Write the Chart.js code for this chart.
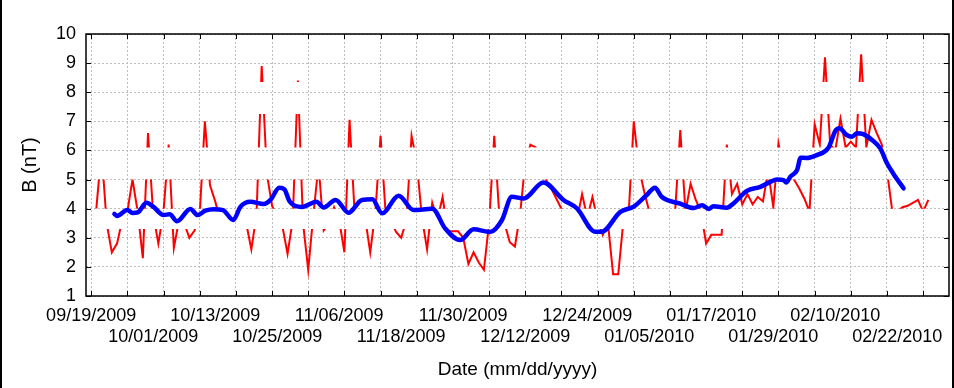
<!DOCTYPE html>
<html>
<head>
<meta charset="utf-8">
<script src="https://cdn.jsdelivr.net/npm/chart.js@4.4.1/dist/chart.umd.min.js"></script>
<style>
  html, body { margin: 0; padding: 0; background: #fff; }
  #wrap { position: relative; width: 954px; height: 388px; }
  #wrap::after { content: ''; position: absolute; left: 0; top: 0; right: 0; bottom: 0;
    border-left: 2px solid #000; border-right: 2px solid #000; pointer-events: none; }
</style>
</head>
<body>
<div id="wrap"><canvas id="bChart" width="954" height="388"></canvas></div>
<script>
// day 0 = 09/19/2009
const startDate = '09/19/2009';
const xTickLabels = ['09/19/2009', '10/01/2009', '10/13/2009', '10/25/2009', '11/06/2009', '11/18/2009', '11/30/2009',
                     '12/12/2009', '12/24/2009', '01/05/2010', '01/17/2010', '01/29/2010', '02/10/2010', '02/22/2010'];
const yTickValues = [1, 2, 3, 4, 5, 6, 7, 8, 9, 10];

// daily field values, first one on day 1 (09/20/2009)
const redStartDay = 1;
const redValues = [
  4.0, 6.0, 3.5, 2.5, 2.8, 3.6, 3.9, 5.0, 3.9, 2.3,
  6.6, 3.8, 2.8, 3.9, 6.2, 2.65, 3.6, 3.5, 3.0, 3.25,
  3.8, 7.0, 4.8, 4.25, 3.6, 3.8, 3.4, 3.9, 3.7, 3.5,
  2.6, 3.8, 8.9, 5.2, 4.1, 3.7, 3.4, 2.45, 3.6, 8.4,
  3.5, 1.9, 3.8, 5.5, 3.25, 3.5, 4.05, 3.6, 2.5, 7.05,
  3.8, 3.5, 3.7, 2.5, 3.9, 6.5, 3.8, 3.6, 3.2, 3.0,
  3.6, 6.5, 5.6, 3.7, 2.6, 4.2, 3.6, 4.4, 3.22, 3.22,
  3.22, 3.0, 2.1, 2.5, 2.15, 1.9, 3.5, 6.5, 3.7, 3.5,
  2.85, 2.7, 3.8, 5.6, 6.2, 6.1, 5.4, 5.0, 4.7, 4.35,
  4.0, 3.7, 3.8, 3.6, 4.5, 3.7, 4.4, 3.6, 3.1, 3.5,
  1.75, 1.75, 3.6, 3.8, 7.0, 5.4, 4.6, 3.9, 3.75, 3.65,
  3.6, 3.8, 3.9, 6.7, 3.9, 4.85, 4.3, 3.9, 2.8, 3.1,
  3.1, 3.1, 6.2, 4.5, 4.85, 4.15, 4.5, 4.15, 4.4, 4.25,
  5.3, 4.05, 6.25, 5.4, 5.2, 5.0, 4.7, 4.35, 3.9, 6.9,
  6.2, 9.2, 6.2, 6.0, 7.1, 6.1, 6.3, 6.1, 9.3, 6.1,
  7.05, 6.6, 6.2, 5.3, 3.95, 3.9, 4.05, 4.1, 4.2, 4.3,
  3.9, 4.3
];

// smoothed curve
const blueDays = [4.5, 5, 7, 8, 9, 10.7, 12, 14, 15.2, 16.6, 19.2, 20.6, 22.1, 23.7, 25.5, 27.5, 28.9, 30.8,
  33.4, 34.7, 36.4, 37.4, 38.4, 40.8, 43.6, 45, 47.3, 49.8, 52.4, 54.4, 56.3, 59.5, 62.4, 66, 68.5, 71.4,
  74, 77.2, 79.5, 81.4, 83.7, 87.5, 91.4, 94, 97.5, 98.8, 102.4, 105, 107.5, 109.1, 110.4, 114, 116.6,
  118.2, 119.5, 120.4, 123, 124.3, 126.9, 129.5, 131.4, 132.7, 134, 134.5, 135.3, 136.6, 137.3, 138.4,
  140.4, 142.7, 144, 144.8, 146.2, 147.2, 148.2, 149.4, 151.1, 152.7, 154, 155.2, 157.2];
const blueValues = [3.82, 3.75, 3.95, 3.85, 3.87, 4.2, 4.07, 3.78, 3.81, 3.57, 3.99, 3.78, 3.93, 3.98, 3.95, 3.61, 4.07, 4.24,
  4.16, 4.3, 4.72, 4.66, 4.25, 4.06, 4.24, 4.04, 4.3, 3.86, 4.3, 4.32, 3.84, 4.44, 3.95, 4.0, 3.32, 2.92,
  3.29, 3.2, 3.61, 4.41, 4.35, 4.9, 4.3, 4.01, 3.21, 3.21, 3.89, 4.07, 4.47, 4.72, 4.41, 4.17, 4.02,
  4.12, 3.99, 4.08, 4.03, 4.18, 4.61, 4.75, 4.92, 5.0, 4.98, 4.9, 5.1, 5.33, 5.75, 5.74,
  5.84, 6.1, 6.67, 6.76, 6.53, 6.47, 6.59, 6.56, 6.36, 6.07, 5.56, 5.21, 4.7];

// value ranges in which the daily trace shows
const redBands = [[1, 3.3], [4, 5], [6.1, 7.25], [8.35, 10]];

function dayOf(s) {
    const [m, d, y] = s.split('/').map(Number);
    const [m0, d0, y0] = startDate.split('/').map(Number);
    return Math.round((Date.UTC(y, m - 1, d) - Date.UTC(y0, m0 - 1, d0)) / 86400000);
}
const tickDays = xTickLabels.map(dayOf);
const fontFamily = '"Liberation Sans", Arial, sans-serif';

const bandPlugin = {
    id: 'bandPlugin',
    beforeDatasetDraw(chart, args) {
        if (args.index !== 0) return;
        const { ctx, chartArea, scales: { y } } = chart;
        ctx.save();
        ctx.beginPath();
        redBands.forEach(([lo, hi]) => {
            const top = y.getPixelForValue(hi);
            const bottom = y.getPixelForValue(lo);
            ctx.rect(chartArea.left, top, chartArea.right - chartArea.left, bottom - top);
        });
        ctx.clip();
    },
    afterDatasetDraw(chart, args) {
        if (args.index !== 0) return;
        chart.ctx.restore();
    },
    afterDraw(chart) {
        const { ctx, chartArea: a, scales: { x, y } } = chart;
        ctx.save();
        ctx.strokeStyle = '#000';
        ctx.lineWidth = 1.5;
        ctx.strokeRect(a.left, a.top, a.right - a.left, a.bottom - a.top);
        ctx.lineWidth = 1;
        ctx.beginPath();
        x.ticks.forEach(t => {
            if (t.value % 7 !== 0) return;
            const px = Math.round(x.getPixelForValue(t.value)) + 0.5;
            ctx.moveTo(px, a.bottom); ctx.lineTo(px, a.bottom - 5);
            ctx.moveTo(px, a.top); ctx.lineTo(px, a.top + 5);
        });
        y.ticks.forEach(t => {
            const py = Math.round(y.getPixelForValue(t.value)) + 0.5;
            ctx.moveTo(a.left, py); ctx.lineTo(a.left + 5, py);
            ctx.moveTo(a.right, py); ctx.lineTo(a.right - 5, py);
        });
        ctx.stroke();
        ctx.restore();
    }
};

const data = {
    datasets: [
        {
            label: 'B daily',
            data: redValues.map((v, i) => ({ x: redStartDay + i, y: v })),
            borderColor: '#ff0000',
            borderWidth: 2,
            pointRadius: 0,
            tension: 0,
            order: 2
        },
        {
            label: 'B smoothed',
            data: blueDays.map((d, i) => ({ x: d, y: blueValues[i] })),
            borderColor: '#0000ff',
            borderWidth: 4.5,
            pointRadius: 0,
            cubicInterpolationMode: 'monotone',
            borderCapStyle: 'round',
            borderJoinStyle: 'round',
            order: 1
        }
    ]
};

const config = {
    type: 'line',
    data: data,
    options: {
        responsive: false,
        animation: false,
        devicePixelRatio: 1,
        layout: { padding: { top: 34, right: 5, left: 0, bottom: 0 } },
        plugins: { legend: { display: false }, tooltip: { enabled: false } },
        scales: {
            x: {
                type: 'linear',
                min: -1,
                max: 166,
                afterBuildTicks(scale) {
                    const vals = new Set(tickDays);
                    for (let d = 0; d <= 166; d += 7) vals.add(d);
                    scale.ticks = [...vals].sort((a, b) => a - b).map(v => ({ value: v }));
                },
                afterFit(scale) { scale.height = 92; },
                ticks: {
                    autoSkip: false,
                    maxRotation: 0,
                    minRotation: 0,
                    padding: 9,
                    color: '#000',
                    font: { family: fontFamily, size: 18, lineHeight: 1.2 },
                    callback(value) {
                        const i = tickDays.indexOf(value);
                        if (i < 0) return '';
                        return i % 2 ? ['', xTickLabels[i]] : xTickLabels[i];
                    }
                },
                grid: {
                    drawTicks: false,
                    color: ctx => (ctx.tick && ctx.tick.value % 7 === 0) ? '#bdbdbd' : 'rgba(0,0,0,0)'
                },
                border: { display: false, dash: [2, 2] },
                title: {
                    display: true,
                    text: 'Date (mm/dd/yyyy)',
                    color: '#000',
                    font: { family: fontFamily, size: 19, lineHeight: 1.2 },
                    padding: { top: 0, bottom: 7 }
                }
            },
            y: {
                min: 1,
                max: 10,
                afterBuildTicks(scale) { scale.ticks = yTickValues.map(v => ({ value: v })); },
                afterFit(scale) { scale.width = 86; },
                ticks: {
                    padding: 10,
                    color: '#000',
                    font: { family: fontFamily, size: 18 }
                },
                grid: { drawTicks: false, color: '#bdbdbd' },
                border: { display: false, dash: [2, 2] },
                title: {
                    display: true,
                    text: 'B (nT)',
                    color: '#000',
                    font: { family: fontFamily, size: 20, lineHeight: 1.2 },
                    padding: { top: 18, bottom: 0 }
                }
            }
        }
    },
    plugins: [bandPlugin]
};

new Chart(document.getElementById('bChart'), config);
</script>
</body>
</html>
